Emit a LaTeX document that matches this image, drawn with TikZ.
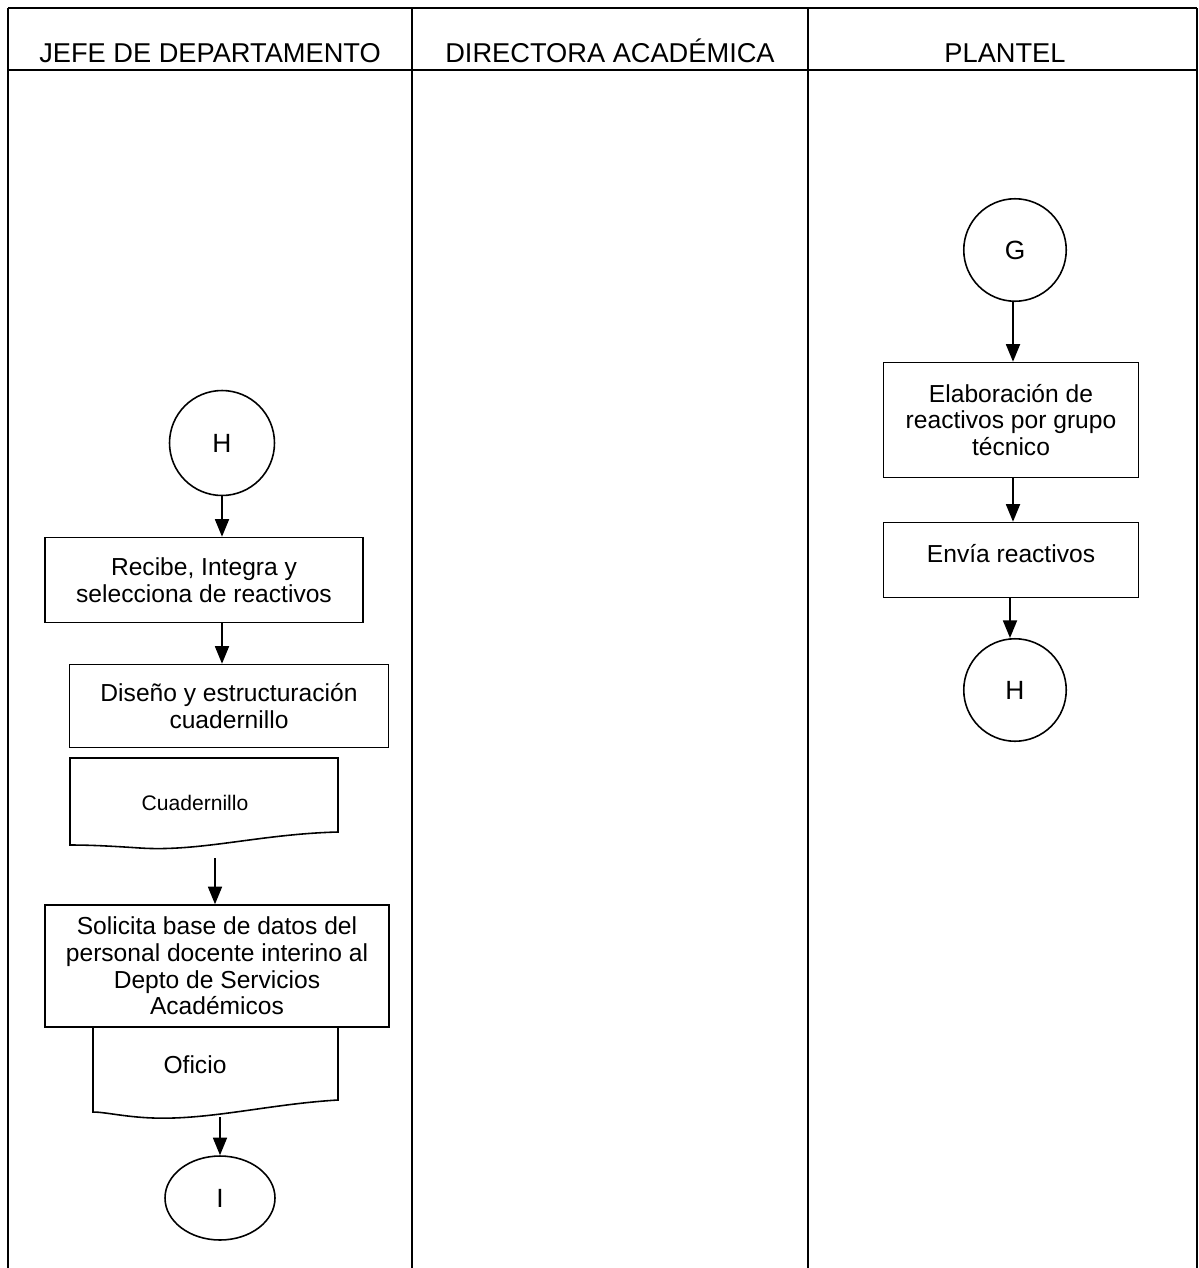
\documentclass[tikz,border=0pt]{standalone}
\usepackage{fontspec}
\setmainfont{Liberation Sans}
\usetikzlibrary{arrows.meta,shapes.geometric}

\begin{document}
\begin{tikzpicture}[x=0.02cm,y=-0.02cm,line width=0.9pt,
  head/.style={anchor=base,font=\fontsize{15.5}{18}\selectfont},
  proc/.style={draw,rectangle,align=center,inner sep=0pt,font=\fontsize{14}{15.2}\selectfont},
  conn/.style={draw,circle,minimum size=2.05cm,inner sep=0pt,font=\fontsize{15}{16}\selectfont},
  flow/.style={-{Triangle[length=10pt,width=8pt]}}]
  \useasboundingbox (0,0) rectangle (1198,1268);

  % swimlanes
  \draw (8,8) -- (1197,8);
  \draw (8,70) -- (1197,70);
  \foreach \x in {8,412,808,1197}
    \draw (\x,8) -- (\x,1268);
  \node[head] (jefe) at (210,62) {JEFE DE DEPARTAMENTO};
  \node[head] (dir) at (610,62) {DIRECTORA ACADÉMICA};
  \node[head] (plantel) at (1005,62) {PLANTEL};

  % plantel
  \node[conn] (G) at (1015,250) {G};
  \node[proc,minimum width=5.1cm,minimum height=2.3cm] (elab) at (1011,420)
    {Elaboración de\\reactivos por grupo\\técnico};
  \node[proc,minimum width=5.1cm,minimum height=1.5cm,text depth=0.28cm] (envia) at (1011,560)
    {Envía reactivos};
  \node[conn] (Hb) at (1015,690) {H};
  \draw[flow] (G.south -| 1013,0) -- (elab.north -| 1013,0);
  \draw[flow] (elab.south -| 1013,0) -- (envia.north -| 1013,0);
  \draw[flow] (envia.south -| 1010,0) -- (Hb.north -| 1010,0);

  % jefe de departamento
  \node[conn,minimum size=2.1cm] (Ha) at (222,443) {H};
  \node[proc,minimum width=6.36cm,minimum height=1.7cm] (recibe) at (204,580)
    {Recibe, Integra y\\selecciona de reactivos};
  \node[proc,minimum width=6.38cm,minimum height=1.66cm] (diseno) at (229,706)
    {Diseño y estructuración\\cuadernillo};
  \draw (70,758) -- (338,758) -- (338,832)
    .. controls (260,834) and (200,852) .. (140,848)
    .. controls (110,846) and (90,845) .. (70,845) -- cycle;
  \node[font=\fontsize{12}{14}\selectfont] (cuad) at (195,803) {Cuadernillo};
  \coordinate (cuadout) at (215,858);
  \node[proc,minimum width=6.88cm,minimum height=2.44cm] (solicita) at (217,966)
    {Solicita base de datos del\\personal docente interino al\\Depto de Servicios\\Académicos};
  \draw (93,1027) -- (338,1027) -- (338,1100)
    .. controls (270,1104) and (210,1120) .. (153,1118)
    .. controls (125,1117) and (105,1112) .. (93,1112) -- cycle;
  \node[font=\fontsize{14}{16}\selectfont] (oficio) at (195,1065) {Oficio};
  \coordinate (ofout) at (220,1117);
  \node[draw,ellipse,minimum width=2.2cm,minimum height=1.68cm,inner sep=0pt,
    font=\fontsize{15}{16}\selectfont] (I) at (220,1198) {I};
  \draw[flow] (Ha.south) -- (Ha.south |- recibe.north);
  \draw[flow] (recibe.south -| Ha.south) -- (diseno.north -| Ha.south);
  \draw[flow] (cuadout) -- (cuadout |- solicita.north);
  \draw[flow] (ofout) -- (I.north);
\end{tikzpicture}
\end{document}
